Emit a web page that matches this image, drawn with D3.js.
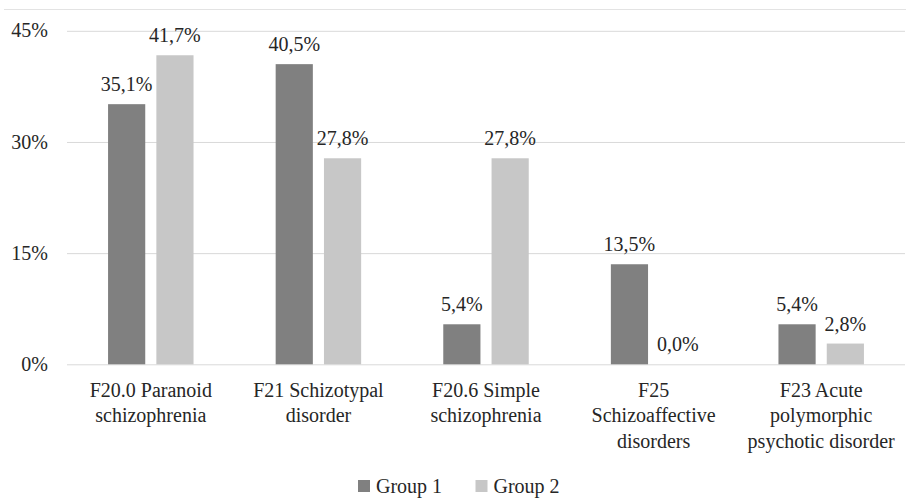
<!DOCTYPE html>
<html>
<head>
<meta charset="utf-8">
<script src="https://cdn.jsdelivr.net/npm/d3@7"></script>
</head>
<body style="margin:0">
<svg id="chart" width="906" height="498"></svg>
<script>
const categories = ["F20.0 Paranoid schizophrenia", "F21 Schizotypal disorder", "F20.6 Simple schizophrenia", "F25 Schizoaffective disorders", "F23 Acute polymorphic psychotic disorder"];
const categoryLines = [
    ["F20.0 Paranoid", "schizophrenia"],
    ["F21 Schizotypal", "disorder"],
    ["F20.6 Simple", "schizophrenia"],
    ["F25", "Schizoaffective", "disorders"],
    ["F23 Acute", "polymorphic", "psychotic disorder"]
];
const seriesNames = ["Group 1", "Group 2"];
const group1 = [35.1, 40.5, 5.4, 13.5, 5.4];
const group2 = [41.7, 27.8, 27.8, 0.0, 2.8];
const yTicks = [0, 15, 30, 45];
const colors = ["#808080", "#c7c7c7"];
const textColor = "#262626";

const svg = d3.select("#chart");
const width = 906;
const plotLeft = 67, plotRight = 905, plotTop = 30.8, plotBottom = 364.3;

const x0 = d3.scaleBand()
    .domain(categories)
    .range([plotLeft, plotRight])
    .paddingInner(0.49)
    .paddingOuter(0.245);

const x1 = d3.scaleBand()
    .domain(seriesNames)
    .range([0, x0.bandwidth()])
    .paddingInner(0.23);

const y = d3.scaleLinear()
    .domain([0, 45])
    .range([plotBottom, plotTop]);

const fmt = v => v.toFixed(1).replace(".", ",") + "%";

// top border line
svg.append("line")
    .attr("x1", 4).attr("x2", width)
    .attr("y1", 9.5).attr("y2", 9.5)
    .attr("stroke", "#e3e3e3")
    .attr("stroke-width", 1);

// grid
const grid = svg.append("g")
    .attr("transform", `translate(${plotLeft},0)`)
    .call(d3.axisLeft(y).tickValues(yTicks).tickSize(-(plotRight - plotLeft)).tickFormat(""));
grid.select(".domain").remove();
grid.selectAll(".tick line").attr("stroke", "#d9d9d9").attr("stroke-width", 1);

// flat list of bar records
const bars = [];
categories.forEach((c, i) => {
    [group1[i], group2[i]].forEach((v, j) => bars.push({ cat: c, name: seriesNames[j], v, j }));
});
const barX = d => x0(d.cat) + x1(d.name);

svg.selectAll("rect.bar")
    .data(bars)
    .join("rect")
    .attr("class", "bar")
    .attr("x", barX)
    .attr("y", d => y(d.v))
    .attr("width", x1.bandwidth())
    .attr("height", d => y(0) - y(d.v))
    .attr("fill", d => colors[d.j]);

// every text sits directly in the svg
function label(sel) {
    return sel.attr("font-size", 20)
        .attr("fill", textColor)
        .style("font-family", '"Liberation Serif"');
}

// y labels
svg.selectAll("text.ytick")
    .data(yTicks)
    .join("text")
    .attr("class", "ytick")
    .attr("x", 48)
    .attr("y", d => y(d))
    .attr("dy", "0.33em")
    .attr("text-anchor", "end")
    .call(label)
    .text(d => d + "%");

// value labels
svg.selectAll("text.val")
    .data(bars)
    .join("text")
    .attr("class", "val")
    .attr("x", d => barX(d) + x1.bandwidth() / 2)
    .attr("y", d => y(d.v) - 13)
    .attr("text-anchor", "middle")
    .call(label)
    .text(d => fmt(d.v));

// category labels, one text per line
const catLines = [];
categories.forEach((c, i) => categoryLines[i].forEach((t, k) => catLines.push({ cat: c, t, k })));
svg.selectAll("text.cat")
    .data(catLines)
    .join("text")
    .attr("class", "cat")
    .attr("x", d => x0(d.cat) + x0.bandwidth() / 2)
    .attr("y", d => 396.5 + d.k * 25.7)
    .attr("text-anchor", "middle")
    .call(label)
    .text(d => d.t);

// legend
const legendX = [358, 475.5];
svg.selectAll("rect.key")
    .data(seriesNames)
    .join("rect")
    .attr("class", "key")
    .attr("x", (d, i) => legendX[i])
    .attr("y", 480)
    .attr("width", 12).attr("height", 12)
    .attr("fill", (d, i) => colors[i]);
svg.selectAll("text.key")
    .data(seriesNames)
    .join("text")
    .attr("class", "key")
    .attr("x", (d, i) => legendX[i] + 18)
    .attr("y", 492.5)
    .call(label)
    .text(d => d);
</script>
</body>
</html>
